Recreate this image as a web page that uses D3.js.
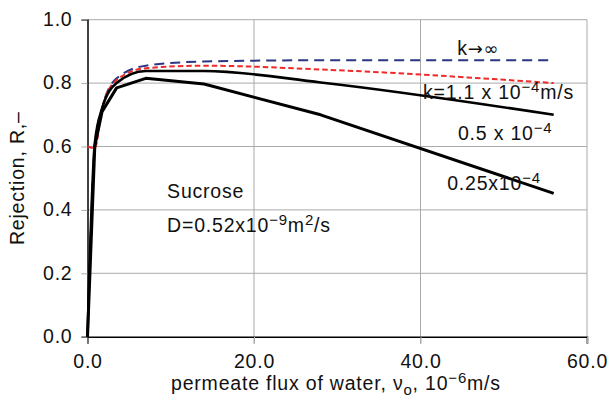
<!DOCTYPE html>
<html>
<head>
<meta charset="utf-8">
<script src="https://cdn.jsdelivr.net/npm/d3@7"></script>
<style>
  body { margin: 0; background: #fff; }
  text { font-family: "Liberation Sans", Arial, Helvetica, sans-serif; font-size: 19.5px; letter-spacing: 0.8px; fill: #111; }
</style>
</head>
<body>
<svg id="chart" width="609" height="410"></svg>
<script>
// permeate flux of water, 10^-6 m/s
const flux = [0, 0.875, 1.75, 3.5, 7, 14, 28, 56];
// rejection R for each mass transfer coefficient k
const rejInf = [0, 0.60, 0.72, 0.815, 0.855, 0.868, 0.872, 0.872];
const rejK11 = [0.60, 0.595, 0.72, 0.81, 0.847, 0.855, 0.843, 0.80];
const rejK05 = [0, 0.61, 0.72, 0.80, 0.838, 0.838, 0.802, 0.70];
const rejK025 = [0, 0.60, 0.71, 0.785, 0.815, 0.797, 0.70, 0.452];

const xTicks = [0, 20, 40, 60];
const yTicks = [0, 0.2, 0.4, 0.6, 0.8, 1.0];

const svg = d3.select("#chart");
const x = d3.scaleLinear().domain([0, 60]).range([87.5, 587]);
const y = d3.scaleLinear().domain([0, 1]).range([336.7, 19.7]);

// grid
svg.append("g")
   .selectAll("line")
   .data(yTicks.filter(d => d > 0))
   .join("line")
   .attr("x1", x(0)).attr("x2", x(60))
   .attr("y1", d => y(d)).attr("y2", d => y(d))
   .attr("stroke", "#aaa").attr("stroke-width", 1);
svg.append("g")
   .selectAll("line")
   .data(xTicks.filter(d => d > 0))
   .join("line")
   .attr("x1", d => x(d)).attr("x2", d => x(d))
   .attr("y1", y(1)).attr("y2", y(0) + 7)
   .attr("stroke", "#aaa").attr("stroke-width", 1);

// axes
const xAxis = svg.append("g")
   .attr("transform", `translate(0,${y(0)})`)
   .call(d3.axisBottom(x).tickValues(xTicks).tickSize(7).tickFormat(d3.format(".1f")));
const yAxis = svg.append("g")
   .attr("transform", `translate(${x(0)},0)`)
   .call(d3.axisLeft(y).tickValues(yTicks).tickSize(6).tickFormat(d3.format(".1f")));
[xAxis, yAxis].forEach(g => {
    g.select(".domain").attr("stroke", "#000").attr("stroke-width", 1.5);
    g.selectAll(".tick line").attr("stroke", "#aaa");
    g.selectAll(".tick text").attr("font-size", null).attr("font-family", null).attr("fill", "#111");
});
xAxis.selectAll(".tick text").attr("dy", null).attr("y", 31);
yAxis.selectAll(".tick text").attr("x", -15).attr("dy", "0.3em");

// curves
const smooth = d3.line().x((d, i) => x(flux[i])).y(d => y(d)).curve(d3.curveMonotoneX);
const straight = d3.line().x((d, i) => x(flux[i])).y(d => y(d));

svg.append("path").datum(rejInf)
   .attr("fill", "none").attr("stroke", "#2c3582").attr("stroke-width", 2)
   .attr("stroke-dasharray", "10,6").attr("d", smooth);
svg.append("path").datum(rejK11)
   .attr("fill", "none").attr("stroke", "#ee2a2a").attr("stroke-width", 2)
   .attr("stroke-dasharray", "5.5,3").attr("d", smooth);
svg.append("path").datum(rejK05)
   .attr("fill", "none").attr("stroke", "#000").attr("stroke-width", 2.6)
   .attr("d", smooth);
svg.append("path").datum(rejK025)
   .attr("fill", "none").attr("stroke", "#000").attr("stroke-width", 3)
   .attr("stroke-linejoin", "round").attr("d", straight);

// labels
function sup(t, s) {
    t.append("tspan").attr("dy", -7).attr("font-size", 15).text(s);
}
let t = svg.append("text").attr("x", x(44.4)).attr("y", y(0.889));
t.append("tspan").text("k");
t.append("tspan").attr("font-family", "DejaVu Sans").attr("font-size", 18).text("→∞");

t = svg.append("text").attr("x", x(40.3)).attr("y", y(0.75));
t.append("tspan").text("k=1.1 x 10");
sup(t, "−4");
t.append("tspan").attr("dy", 7).text("m/s");

t = svg.append("text").attr("x", x(44.5)).attr("y", y(0.62));
t.append("tspan").text("0.5 x 10");
sup(t, "−4");

t = svg.append("text").attr("x", x(43.2)).attr("y", y(0.462));
t.append("tspan").text("0.25x10");
sup(t, "−4");

svg.append("text").attr("x", x(9.56)).attr("y", y(0.437)).text("Sucrose");
t = svg.append("text").attr("x", x(9.56)).attr("y", y(0.33));
t.append("tspan").text("D=0.52x10");
sup(t, "−9");
t.append("tspan").attr("dy", 7).text("m");
sup(t, "2");
t.append("tspan").attr("dy", 7).text("/s");

// axis titles
t = svg.append("text").attr("x", 171).attr("y", 390);
t.append("tspan").text("permeate flux of water, ν");
t.append("tspan").attr("dy", 5).attr("font-size", 15).text("o");
t.append("tspan").attr("dy", -5).text(", 10");
sup(t, "−6");
t.append("tspan").attr("dy", 7).text("m/s");

svg.append("text")
   .attr("transform", `translate(24,${y(0.5)}) rotate(-90)`)
   .attr("text-anchor", "middle")
   .text("Rejection, R,–");
</script>
</body>
</html>
